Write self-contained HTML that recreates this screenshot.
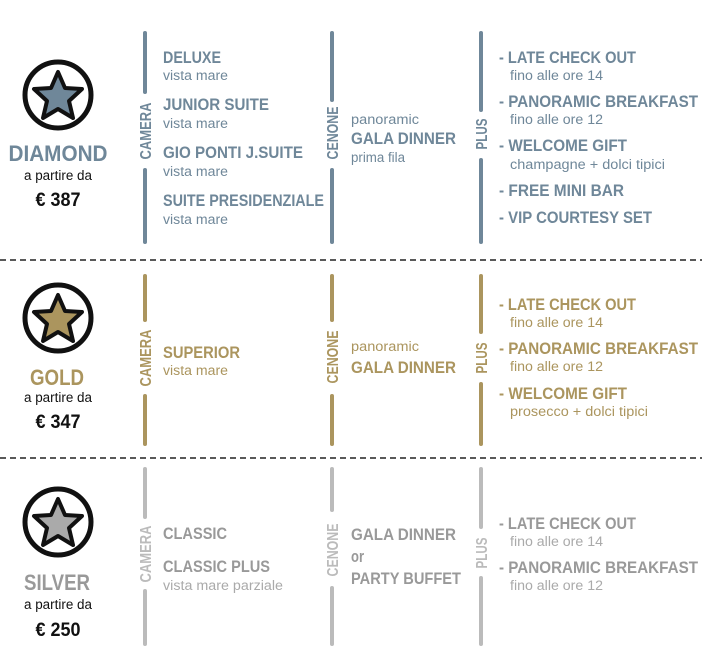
<!DOCTYPE html>
<html><head><meta charset="utf-8"><style>
html,body{margin:0;padding:0;background:#fff;width:702px;height:655px;overflow:hidden}
svg text{font-family:"Liberation Sans Narrow","Liberation Sans",sans-serif}
.b{font-weight:bold;font-size:17px}
.s{font-size:13.5px}
.v{font-weight:bold;font-size:16px}
.n{font-weight:bold;font-size:22px}
</style></head><body>
<svg width="702" height="655" viewBox="0 0 702 655" xmlns="http://www.w3.org/2000/svg">
<defs>
<path id="star" d="M0,-25 L7,-9 L24,-8 L11,4 L15,21 L0,12 L-15,21 L-11,4 L-24,-8 L-7,-9 Z"/>
</defs>
<g stroke="#222" stroke-width="1.6" stroke-dasharray="6,4"><line x1="0" y1="260" x2="702" y2="260"/><line x1="0" y1="458" x2="702" y2="458"/></g>

<!-- DIAMOND -->
<g fill="#6f8799">
<circle cx="58" cy="95" r="33" fill="#fff" stroke="#111" stroke-width="5"/>
<use href="#star" x="58" y="97" fill="#6f8799" stroke="#111" stroke-width="4" stroke-linejoin="round"/>
<text class="n" x="58" y="161" text-anchor="middle" textLength="99" lengthAdjust="spacingAndGlyphs">DIAMOND</text>
<text fill="#111" font-size="13.5" x="58" y="180" text-anchor="middle" textLength="68" lengthAdjust="spacingAndGlyphs">a partire da</text>
<text fill="#111" font-weight="bold" font-size="19" x="58" y="206" text-anchor="middle" textLength="45" lengthAdjust="spacingAndGlyphs">€ 387</text>
<g stroke="#6f8799" stroke-width="4" stroke-linecap="round">
<line x1="145" y1="33" x2="145" y2="92"/><line x1="145" y1="170" x2="145" y2="242"/>
<line x1="332" y1="33" x2="332" y2="100"/><line x1="332" y1="170" x2="332" y2="242"/>
<line x1="481" y1="33" x2="481" y2="110"/><line x1="481" y1="160" x2="481" y2="242"/>
</g>
<text class="v" transform="translate(151,131) rotate(-90)" text-anchor="middle" textLength="57" lengthAdjust="spacingAndGlyphs">CAMERA</text>
<text class="v" transform="translate(338,133) rotate(-90)" text-anchor="middle" textLength="53" lengthAdjust="spacingAndGlyphs">CENONE</text>
<text class="v" transform="translate(487,134) rotate(-90)" text-anchor="middle" textLength="31" lengthAdjust="spacingAndGlyphs">PLUS</text>
<text class="b" x="163" y="63" textLength="58" lengthAdjust="spacingAndGlyphs">DELUXE</text>
<text class="s" x="163" y="80" textLength="65" lengthAdjust="spacingAndGlyphs">vista mare</text>
<text class="b" x="163" y="110" textLength="106" lengthAdjust="spacingAndGlyphs">JUNIOR SUITE</text>
<text class="s" x="163" y="128" textLength="65" lengthAdjust="spacingAndGlyphs">vista mare</text>
<text class="b" x="163" y="158" textLength="140" lengthAdjust="spacingAndGlyphs">GIO PONTI J.SUITE</text>
<text class="s" x="163" y="176" textLength="65" lengthAdjust="spacingAndGlyphs">vista mare</text>
<text class="b" x="163" y="206" textLength="161" lengthAdjust="spacingAndGlyphs">SUITE PRESIDENZIALE</text>
<text class="s" x="163" y="224" textLength="65" lengthAdjust="spacingAndGlyphs">vista mare</text>
<text class="s" x="351" y="124" textLength="68" lengthAdjust="spacingAndGlyphs">panoramic</text>
<text class="b" x="351" y="144" textLength="105" lengthAdjust="spacingAndGlyphs">GALA DINNER</text>
<text class="s" x="351" y="162" textLength="54" lengthAdjust="spacingAndGlyphs">prima fila</text>
<text class="b" x="499" y="63" textLength="137" lengthAdjust="spacingAndGlyphs">- LATE CHECK OUT</text>
<text class="s" x="510" y="80" textLength="93" lengthAdjust="spacingAndGlyphs">fino alle ore 14</text>
<text class="b" x="499" y="107" textLength="199" lengthAdjust="spacingAndGlyphs">- PANORAMIC BREAKFAST</text>
<text class="s" x="510" y="124" textLength="93" lengthAdjust="spacingAndGlyphs">fino alle ore 12</text>
<text class="b" x="499" y="151" textLength="128" lengthAdjust="spacingAndGlyphs">- WELCOME GIFT</text>
<text class="s" x="510" y="169" textLength="155" lengthAdjust="spacingAndGlyphs">champagne + dolci tipici</text>
<text class="b" x="499" y="196" textLength="125" lengthAdjust="spacingAndGlyphs">- FREE MINI BAR</text>
<text class="b" x="499" y="223" textLength="153" lengthAdjust="spacingAndGlyphs">- VIP COURTESY SET</text>
</g>

<!-- GOLD -->
<g fill="#ab955e">
<circle cx="58" cy="318" r="33" fill="#fff" stroke="#111" stroke-width="5"/>
<use href="#star" x="58" y="320" fill="#ab955e" stroke="#111" stroke-width="4" stroke-linejoin="round"/>
<text class="n" x="57" y="385" text-anchor="middle" textLength="54" lengthAdjust="spacingAndGlyphs">GOLD</text>
<text fill="#111" font-size="13.5" x="58" y="402" text-anchor="middle" textLength="68" lengthAdjust="spacingAndGlyphs">a partire da</text>
<text fill="#111" font-weight="bold" font-size="19" x="58" y="428" text-anchor="middle" textLength="45" lengthAdjust="spacingAndGlyphs">€ 347</text>
<g stroke="#ab955e" stroke-width="4" stroke-linecap="round">
<line x1="145" y1="276" x2="145" y2="320"/><line x1="145" y1="396" x2="145" y2="444"/>
<line x1="332" y1="276" x2="332" y2="320"/><line x1="332" y1="396" x2="332" y2="444"/>
<line x1="481" y1="276" x2="481" y2="332"/><line x1="481" y1="384" x2="481" y2="444"/>
</g>
<text class="v" transform="translate(151,358) rotate(-90)" text-anchor="middle" textLength="57" lengthAdjust="spacingAndGlyphs">CAMERA</text>
<text class="v" transform="translate(338,357) rotate(-90)" text-anchor="middle" textLength="53" lengthAdjust="spacingAndGlyphs">CENONE</text>
<text class="v" transform="translate(487,358) rotate(-90)" text-anchor="middle" textLength="31" lengthAdjust="spacingAndGlyphs">PLUS</text>
<text class="b" x="163" y="358" textLength="77" lengthAdjust="spacingAndGlyphs">SUPERIOR</text>
<text class="s" x="163" y="375" textLength="65" lengthAdjust="spacingAndGlyphs">vista mare</text>
<text class="s" x="351" y="351" textLength="68" lengthAdjust="spacingAndGlyphs">panoramic</text>
<text class="b" x="351" y="373" textLength="105" lengthAdjust="spacingAndGlyphs">GALA DINNER</text>
<text class="b" x="499" y="310" textLength="137" lengthAdjust="spacingAndGlyphs">- LATE CHECK OUT</text>
<text class="s" x="510" y="327" textLength="93" lengthAdjust="spacingAndGlyphs">fino alle ore 14</text>
<text class="b" x="499" y="354" textLength="199" lengthAdjust="spacingAndGlyphs">- PANORAMIC BREAKFAST</text>
<text class="s" x="510" y="371" textLength="93" lengthAdjust="spacingAndGlyphs">fino alle ore 12</text>
<text class="b" x="499" y="399" textLength="128" lengthAdjust="spacingAndGlyphs">- WELCOME GIFT</text>
<text class="s" x="510" y="416" textLength="138" lengthAdjust="spacingAndGlyphs">prosecco + dolci tipici</text>
</g>

<!-- SILVER -->
<g fill="#999">
<circle cx="58" cy="522" r="33" fill="#fff" stroke="#111" stroke-width="5"/>
<use href="#star" x="58" y="524" fill="#aaa" stroke="#111" stroke-width="4" stroke-linejoin="round"/>
<text class="n" x="57" y="590" text-anchor="middle" textLength="66" lengthAdjust="spacingAndGlyphs">SILVER</text>
<text fill="#111" font-size="13.5" x="58" y="609" text-anchor="middle" textLength="68" lengthAdjust="spacingAndGlyphs">a partire da</text>
<text fill="#111" font-weight="bold" font-size="19" x="58" y="636" text-anchor="middle" textLength="45" lengthAdjust="spacingAndGlyphs">€ 250</text>
<g stroke="#bbb" stroke-width="4" stroke-linecap="round">
<line x1="145" y1="469" x2="145" y2="517"/><line x1="145" y1="591" x2="145" y2="644"/>
<line x1="332" y1="469" x2="332" y2="510"/><line x1="332" y1="588" x2="332" y2="644"/>
<line x1="481" y1="469" x2="481" y2="527"/><line x1="481" y1="578" x2="481" y2="644"/>
</g>
<g fill="#bbb">
<text class="v" transform="translate(151,554) rotate(-90)" text-anchor="middle" textLength="57" lengthAdjust="spacingAndGlyphs">CAMERA</text>
<text class="v" transform="translate(338,550) rotate(-90)" text-anchor="middle" textLength="53" lengthAdjust="spacingAndGlyphs">CENONE</text>
<text class="v" transform="translate(487,553) rotate(-90)" text-anchor="middle" textLength="31" lengthAdjust="spacingAndGlyphs">PLUS</text>
</g>
<text class="b" x="163" y="539" textLength="64" lengthAdjust="spacingAndGlyphs">CLASSIC</text>
<text class="b" x="163" y="572" textLength="107" lengthAdjust="spacingAndGlyphs">CLASSIC PLUS</text>
<text class="s" x="163" y="590" fill="#aaa" textLength="120" lengthAdjust="spacingAndGlyphs">vista mare parziale</text>
<text class="b" x="351" y="540" textLength="105" lengthAdjust="spacingAndGlyphs">GALA DINNER</text>
<text class="b" x="351" y="562" textLength="13" lengthAdjust="spacingAndGlyphs">or</text>
<text class="b" x="351" y="584" textLength="110" lengthAdjust="spacingAndGlyphs">PARTY BUFFET</text>
<text class="b" x="499" y="529" textLength="137" lengthAdjust="spacingAndGlyphs">- LATE CHECK OUT</text>
<text class="s" x="510" y="546" fill="#aaa" textLength="93" lengthAdjust="spacingAndGlyphs">fino alle ore 14</text>
<text class="b" x="499" y="573" textLength="199" lengthAdjust="spacingAndGlyphs">- PANORAMIC BREAKFAST</text>
<text class="s" x="510" y="590" fill="#aaa" textLength="93" lengthAdjust="spacingAndGlyphs">fino alle ore 12</text>
</g>
</svg>
</body></html>
